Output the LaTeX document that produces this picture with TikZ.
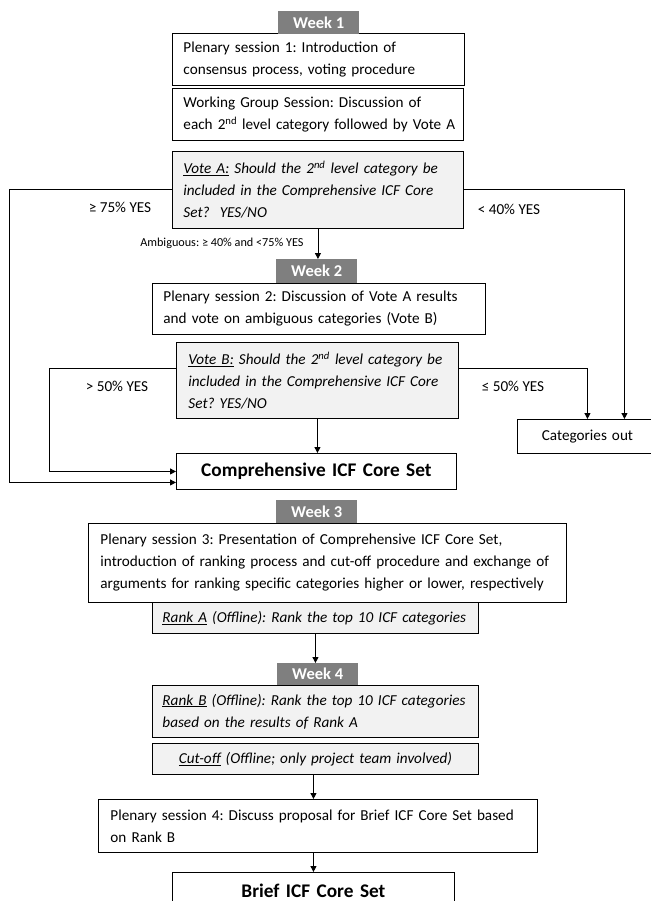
\documentclass[tikz,border=0pt]{standalone}
\usepackage{fontspec}
\setmainfont{Carlito}
\usetikzlibrary{arrows.meta,calc}
\definecolor{weekgray}{RGB}{127,127,127}
\definecolor{votefill}{RGB}{242,242,242}
\frenchspacing
\begin{document}
\begin{tikzpicture}[x=1pt, y=-1pt,
stepbox/.style={anchor=north west, rectangle, draw=black, fill=white, line width=0.9pt, inner xsep=11pt, inner ysep=0pt, align=left, font=\fontsize{15.2}{22}\selectfont},
votebox/.style={stepbox, fill=votefill, font=\fontsize{15.2}{22}\selectfont\itshape},
weeknode/.style={anchor=north west, rectangle, fill=weekgray, text=white, inner sep=0pt, minimum width=81pt, minimum height=23pt, font=\fontsize{16.5}{18}\selectfont\bfseries},
resultbox/.style={stepbox, align=center, font=\fontsize{19.3}{22}\selectfont\bfseries},
pct/.style={font=\fontsize{15.2}{16}\selectfont},
arr/.style={draw=black, line width=0.9pt, -{Triangle[length=6pt, width=6pt]}},
]
\useasboundingbox (0,0) rectangle (650,901);

\node (plenary1) [stepbox, text width=270pt, minimum height=52pt] at (172,33) {Plenary session 1: Introduction of\\consensus process, voting procedure};
\node (wgsession) [stepbox, text width=269pt, minimum height=52pt] at (172,88) {Working Group Session: Discussion of\\\mbox{each 2\textsuperscript{nd} level category followed by Vote A}};
\node (votea) [votebox, text width=269pt, minimum height=77pt] at (172,151) {\underline{Vote A:} Should the 2\textsuperscript{nd} level category be\\included in the Comprehensive ICF Core\\Set?~ YES/NO};
\node (week1) [weeknode] at (278,11) {Week 1};

\node (plenary2) [stepbox, text width=311pt, minimum height=51pt] at (152,283) {Plenary session 2: Discussion of Vote A results\\and vote on ambiguous categories (Vote B)};
\node (voteb) [votebox, inner xsep=12pt, text width=258pt, minimum height=76pt] at (176,342) {\underline{Vote B:} Should the 2\textsuperscript{nd} level category be\\included in the Comprehensive ICF Core\\Set? YES/NO};
\node (week2) [weeknode, minimum height=24pt] at (276,259) {Week 2};

\node (comprehensive) [resultbox, text width=258pt, minimum height=36pt] at (176,453) {Comprehensive ICF Core Set};
\node (catout) [stepbox, align=center, text width=118pt, minimum height=34pt] at (517,419) {Categories out};

\node (plenary3) [stepbox, inner xsep=12pt, text width=454pt, minimum height=79pt] at (88,523) {Plenary session 3: Presentation of Comprehensive ICF Core Set,\\introduction of ranking process and cut-off procedure and exchange of\\arguments for ranking specific categories higher or lower, respectively};
\node (ranka) [votebox, inner xsep=10pt, text width=306pt, minimum height=31pt] at (152,602) {\underline{Rank A} (Offline): Rank the top 10 ICF categories};
\node (week3) [weeknode] at (276,500) {Week 3};

\node (rankb) [votebox, inner xsep=10pt, text width=306pt, minimum height=52pt] at (152,685) {\underline{Rank B} (Offline): Rank the top 10 ICF categories\\based on the results of Rank A};
\node (cutoff) [votebox, align=center, inner xsep=10pt, text width=306pt, minimum height=31pt] at (152,743) {\underline{Cut-off} (Offline; only project team involved)};
\node (week4) [weeknode, minimum height=22pt] at (277,663) {Week 4};

\node (plenary4) [stepbox, inner xsep=12pt, text width=415pt, minimum height=53pt] at (98,799) {Plenary session 4: Discuss proposal for Brief ICF Core Set based\\on Rank B};
\node (brief) [resultbox, text width=260pt, minimum height=36pt] at (172,872) {Brief ICF Core Set};

\node (yes75) [pct] at (120,207) {≥ 75\% YES};
\node (yes40) [pct] at (509,209) {< 40\% YES};
\node (ambig) [anchor=east, font=\fontsize{12.2}{14}\selectfont] at (307,243) {Ambiguous: ≥ 40\% and <75\% YES};
\node (yes50) [pct] at (117,386) {> 50\% YES};
\node (no50) [pct] at (513,386) {≤ 50\% YES};

\draw[arr] (votea.west) -- ++(-163,0) |- ($(comprehensive.west)+(0,11)$);
\draw[arr] ($(voteb.west)+(0,-12)$) -- ++(-127,0) |- (comprehensive.west);
\draw[arr] (votea.east) -| ($(catout.north)+(37,0)$);
\draw[arr] ($(voteb.east)+(0,-12)$) -| (catout.north);
\draw[arr] (votea.south) -- (votea.south |- week2.north);
\draw[arr] (voteb.south) -- (voteb.south |- comprehensive.north);
\draw[arr] (ranka.south) -- (ranka.south |- week4.north);
\draw[arr] (cutoff.south -| brief.north) -- (plenary4.north -| brief.north);
\draw[arr] (plenary4.south -| brief.north) -- (brief.north);

\end{tikzpicture}
\end{document}
